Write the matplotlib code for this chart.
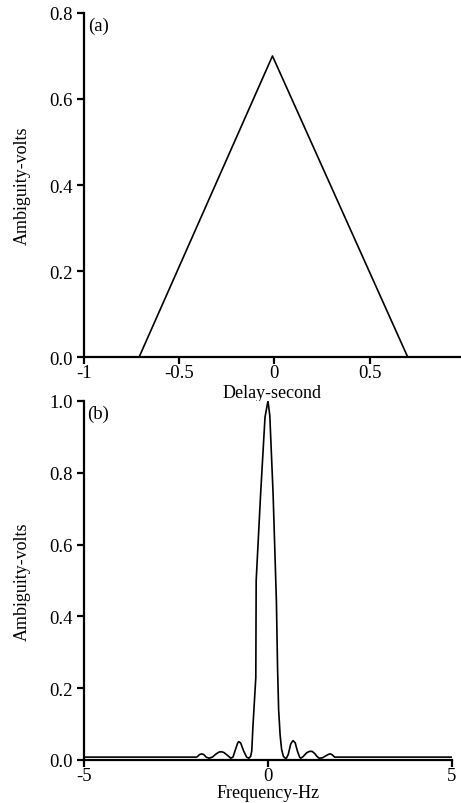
import matplotlib
matplotlib.use("Agg")
import matplotlib.pyplot as plt

plt.rcParams['font.family'] = ['Liberation Serif', 'DejaVu Serif']
plt.rcParams['axes.unicode_minus'] = False

# (a) ambiguity vs delay
delay = [-0.71, -0.01, 0.70]
amp_delay = [0.0, 0.70, 0.0]
delay_ticks = [-1, -0.5, 0, 0.5]
delay_ticklabels = ["-1", "-0.5", "0", "0.5"]
amp_a_ticks = [0.0, 0.2, 0.4, 0.6, 0.8]

# (b) ambiguity vs frequency
freq = [-5.0, -1.95, -1.92, -1.86, -1.80, -1.74, -1.68, -1.60, -1.51, -1.42,
        -1.33, -1.27, -1.20, -1.10, -1.01, -0.95, -0.88, -0.82, -0.79, -0.74,
        -0.66, -0.58, -0.52, -0.47, -0.44, -0.41, -0.37, -0.33, -0.32, -0.20,
        -0.08, 0.0, 0.05, 0.14, 0.23, 0.26, 0.29, 0.33, 0.37, 0.42, 0.47,
        0.50, 0.55, 0.62, 0.68, 0.74, 0.80, 0.86, 0.89, 0.95, 1.05, 1.13,
        1.20, 1.27, 1.33, 1.39, 1.48, 1.58, 1.65, 1.70, 1.75, 1.81, 1.85, 5.0]
amp_freq = [0.008, 0.008, 0.009, 0.015, 0.017, 0.015, 0.008, 0.005, 0.008, 0.016,
            0.022, 0.023, 0.021, 0.013, 0.005, 0.008, 0.030, 0.048, 0.051, 0.047,
            0.025, 0.008, 0.005, 0.010, 0.025, 0.09, 0.16, 0.23, 0.50, 0.74,
            0.955, 1.0, 0.96, 0.74, 0.44, 0.26, 0.14, 0.07, 0.03, 0.010, 0.005,
            0.005, 0.015, 0.045, 0.054, 0.048, 0.025, 0.008, 0.005, 0.009, 0.020,
            0.024, 0.024, 0.018, 0.010, 0.005, 0.006, 0.012, 0.016, 0.017, 0.014,
            0.008, 0.008, 0.008]
freq_ticks = [-5, 0, 5]
freq_ticklabels = ["-5", "0", "5"]
amp_b_ticks = [0.0, 0.2, 0.4, 0.6, 0.8, 1.0]

fs = 13.5
lfs = 13
fig = plt.figure(figsize=(4.61, 8.04), dpi=100)
ax1 = fig.add_axes([0.182, 0.5547, 0.816, 0.4279])
ax2 = fig.add_axes([0.182, 0.0535, 0.7985, 0.4465])

for ax in (ax1, ax2):
    ax.spines['top'].set_visible(False)
    ax.spines['right'].set_visible(False)
    ax.spines['left'].set_linewidth(1.6)
    ax.spines['bottom'].set_linewidth(1.6)
    ax.tick_params(direction='out', length=5, width=1.6, labelsize=fs)
    ax.tick_params(axis='x', pad=0)
    ax.tick_params(axis='y', pad=3)

ax1.plot(delay, amp_delay, color='black', lw=1.2)
ax1.set_xlim(-1, 0.975)
ax1.set_ylim(0, 0.8)
ax1.set_xticks(delay_ticks)
ax1.set_xticklabels(delay_ticklabels)
ax1.set_yticks(amp_a_ticks)
ax1.set_yticklabels([f"{v:.1f}" for v in amp_a_ticks])
ax1.set_xlabel("Delay-second", fontsize=lfs, labelpad=2)
ax1.set_ylabel("Ambiguity-volts", fontsize=lfs, labelpad=13)
ax1.text(0.01, 0.99, "(a)", transform=ax1.transAxes, fontsize=fs, va='top', ha='left')

ax2.plot(freq, amp_freq, color='black', lw=1.2)
ax2.set_xlim(-5, 5)
ax2.set_ylim(0, 1.0)
ax2.set_xticks(freq_ticks)
ax2.set_xticklabels(freq_ticklabels)
ax2.set_yticks(amp_b_ticks)
ax2.set_yticklabels([f"{v:.1f}" for v in amp_b_ticks])
ax2.set_xlabel("Frequency-Hz", fontsize=lfs, labelpad=0)
ax2.set_ylabel("Ambiguity-volts", fontsize=lfs, labelpad=13)
ax2.text(0.01, 0.99, "(b)", transform=ax2.transAxes, fontsize=fs, va='top', ha='left')

fig.savefig("out.png", dpi=100)
